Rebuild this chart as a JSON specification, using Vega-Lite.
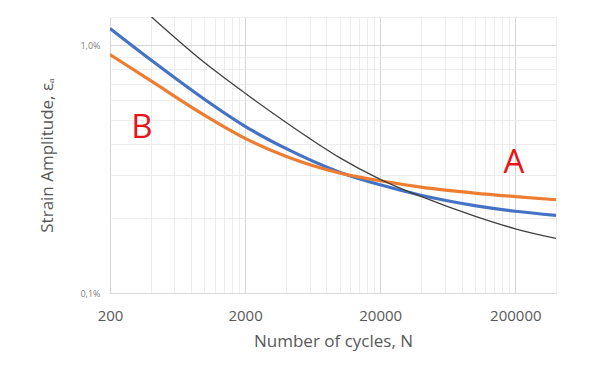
{
  "$schema": "https://vega.github.io/schema/vega-lite/v6.json",
  "width": 446,
  "height": 276,
  "autosize": {"type": "none"},
  "padding": {"left": 110, "top": 17, "right": 39, "bottom": 76},
  "background": "white",
  "config": {"view": {"stroke": "#eeeeee"}, "font": "Open Sans"},
  "datasets": {
    "curves": [
      {"series": "blue", "N": 200, "strain": 1.168},
      {"series": "blue", "N": 400, "strain": 0.873},
      {"series": "blue", "N": 1000, "strain": 0.605},
      {"series": "blue", "N": 2000, "strain": 0.4705},
      {"series": "blue", "N": 4000, "strain": 0.3833},
      {"series": "blue", "N": 10000, "strain": 0.3075},
      {"series": "blue", "N": 20000, "strain": 0.2733},
      {"series": "blue", "N": 40000, "strain": 0.248},
      {"series": "blue", "N": 100000, "strain": 0.2253},
      {"series": "blue", "N": 200000, "strain": 0.2138},
      {"series": "blue", "N": 400000, "strain": 0.2058},
      {"series": "orange", "N": 200, "strain": 0.917},
      {"series": "orange", "N": 400, "strain": 0.7194},
      {"series": "orange", "N": 1000, "strain": 0.522},
      {"series": "orange", "N": 2000, "strain": 0.421},
      {"series": "orange", "N": 4000, "strain": 0.3565},
      {"series": "orange", "N": 10000, "strain": 0.3051},
      {"series": "orange", "N": 20000, "strain": 0.2837},
      {"series": "orange", "N": 40000, "strain": 0.2675},
      {"series": "orange", "N": 100000, "strain": 0.2532},
      {"series": "orange", "N": 200000, "strain": 0.245},
      {"series": "orange", "N": 400000, "strain": 0.2379},
      {"series": "black", "N": 406, "strain": 1.3},
      {"series": "black", "N": 1000, "strain": 0.851},
      {"series": "black", "N": 2000, "strain": 0.64},
      {"series": "black", "N": 4000, "strain": 0.489},
      {"series": "black", "N": 6000, "strain": 0.4207},
      {"series": "black", "N": 10000, "strain": 0.352},
      {"series": "black", "N": 20000, "strain": 0.2877},
      {"series": "black", "N": 40000, "strain": 0.2453},
      {"series": "black", "N": 100000, "strain": 0.2043},
      {"series": "black", "N": 200000, "strain": 0.1816},
      {"series": "black", "N": 400000, "strain": 0.166}
    ],
    "labels": [
      {"label": "B", "N": 345, "strain": 0.463},
      {"label": "A", "N": 195000, "strain": 0.335}
    ]
  },
  "encoding": {
    "x": {
      "field": "N",
      "type": "quantitative",
      "scale": {"type": "log", "domain": [200, 400000], "nice": false},
      "axis": {
        "title": "Number of cycles, N",
        "values": [200, 400, 600, 800, 1000, 1200, 1400, 1600, 1800, 2000, 4000, 6000, 8000, 10000, 12000, 14000, 16000, 18000, 20000, 40000, 60000, 80000, 100000, 120000, 140000, 160000, 180000, 200000, 400000],
        "format": "d",
        "labelExpr": "datum.value == 200 || datum.value == 2000 || datum.value == 20000 || datum.value == 200000 ? datum.label : ''",
        "labelOverlap": false,
        "labelFlush": false,
        "labelFont": "Open Sans",
        "labelFontSize": 15,
        "labelColor": "#595959",
        "labelPadding": 15,
        "ticks": false,
        "tickSize": 0,
        "domainColor": "#d9d9d9",
        "grid": true,
        "gridColor": {"condition": {"test": "datum.value == 200 || datum.value == 2000 || datum.value == 20000 || datum.value == 200000", "value": "#d6d6d6"}, "value": "#ececec"},
        "titleFont": "Open Sans",
        "titleFontSize": 17,
        "titleFontWeight": "normal",
        "titleColor": "#595959",
        "titlePadding": 10
      }
    },
    "y": {
      "field": "strain",
      "type": "quantitative",
      "scale": {"type": "log", "domain": [0.1, 1.3], "nice": false},
      "axis": {
        "title": "Strain Amplitude, εₐ",
        "values": [0.1, 0.2, 0.3, 0.4, 0.5, 0.6, 0.7, 0.8, 0.9, 1],
        "labelExpr": "datum.value == 0.1 ? '0,1%' : (datum.value == 1 ? '1,0%' : '')",
        "labelOverlap": false,
        "labelFont": "Open Sans",
        "labelFontSize": 9,
        "labelColor": "#808080",
        "labelPadding": 10,
        "ticks": false,
        "tickSize": 0,
        "domain": false,
        "grid": true,
        "gridColor": {"condition": {"test": "datum.value == 0.1 || datum.value == 1", "value": "#d6d6d6"}, "value": "#ececec"},
        "titleFont": "Open Sans",
        "titleFontSize": 17,
        "titleFontWeight": "normal",
        "titleColor": "#595959",
        "titlePadding": 23
      }
    }
  },
  "layer": [
    {
      "data": {"name": "curves"},
      "transform": [{"filter": "datum.series == 'blue'"}],
      "mark": {"type": "line", "interpolate": "monotone", "clip": true, "color": "#4472C4", "strokeWidth": 3.2}
    },
    {
      "data": {"name": "curves"},
      "transform": [{"filter": "datum.series == 'orange'"}],
      "mark": {"type": "line", "interpolate": "monotone", "clip": true, "color": "#ED7D31", "strokeWidth": 3.2}
    },
    {
      "data": {"name": "curves"},
      "transform": [{"filter": "datum.series == 'black'"}],
      "mark": {"type": "line", "interpolate": "monotone", "clip": true, "color": "#404040", "strokeWidth": 1.3}
    },
    {
      "data": {"name": "labels"},
      "mark": {"type": "text", "color": "#e8141c", "fontSize": 33, "font": "Open Sans", "baseline": "middle", "align": "center"},
      "encoding": {"text": {"field": "label", "type": "nominal"}}
    }
  ]
}
